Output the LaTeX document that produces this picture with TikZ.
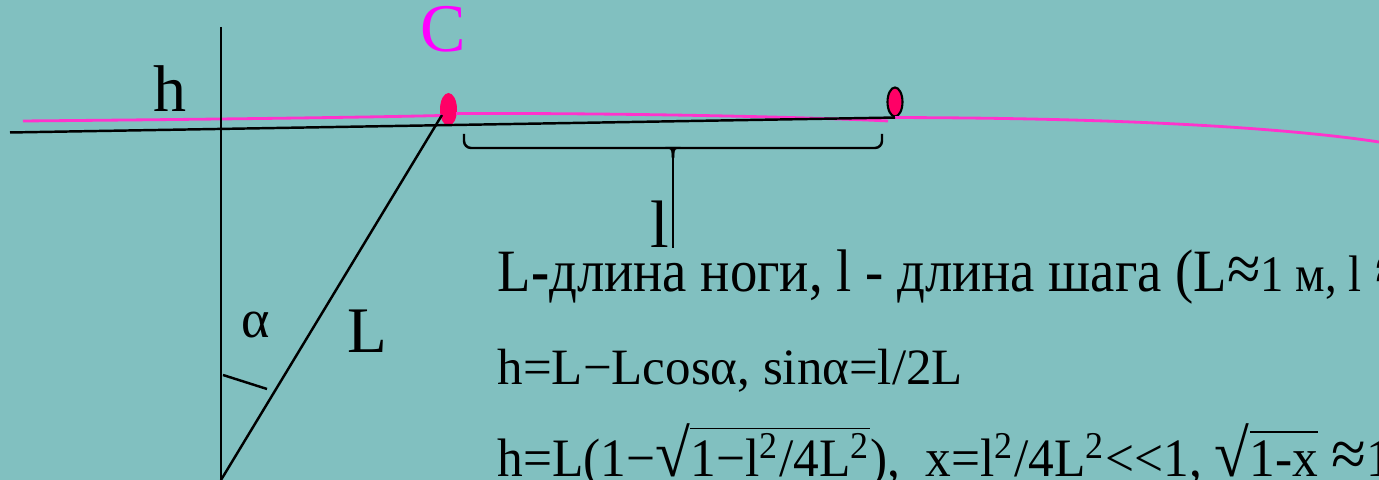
\documentclass[tikz,border=0pt]{standalone}
\usepackage{fontspec}
\setmainfont{Liberation Serif}
\usepackage{tikz}
\usetikzlibrary{shapes.geometric}

\definecolor{bgteal}{RGB}{129,192,192}
\definecolor{dotred}{RGB}{255,0,102}
\definecolor{pathpink}{RGB}{255,51,204}
\definecolor{labmag}{RGB}{255,0,255}

\newcommand\ovl[1]{$\overline{\hbox{\rule{0pt}{0.74em}#1}}$}
\newcommand\rt{{\fontsize{19}{19}\selectfont √}}
\newcommand\apx{{\fontsize{19}{19}\selectfont ≈}}
\newcommand\sm[1]{{\fontsize{14.6}{16}\selectfont #1}}

\begin{document}
\begin{tikzpicture}[
    ln/.style={line width=0.7pt,black},
    trace/.style={line width=0.8pt,pathpink},
    dot/.style={ellipse,inner sep=0pt,fill=dotred},
    lbl/.style={inner sep=0pt,font=\fontsize{18.8}{20}\selectfont},
    txt/.style={inner sep=0pt,anchor=base west},
  ]
  \useasboundingbox[fill=bgteal] (0,0) rectangle (13.79,4.80);

  % -- the two feet marks --
  \node[dot,minimum width=0.17cm,minimum height=0.33cm] (Cdot) at (4.485,3.705) {};
  \node[dot,draw=black,line width=0.6pt,minimum width=0.15cm,minimum height=0.29cm] (Edot) at (8.95,3.78) {};

  % -- path of the centre of mass --
  \coordinate (cl) at (4.42,3.645);
  \coordinate (cr) at (4.56,3.665);
  \draw[trace] (0.23,3.59) .. controls (2.5,3.61) and (3.8,3.63) .. (cl);
  \draw[trace] (cr) .. controls (6.5,3.67) and (8.3,3.62) .. (8.88,3.59);
  \draw[trace] (Edot.south) .. controls (11.5,3.62) and (13.0,3.50) .. (13.79,3.38);

  % -- ground, vertical and leg --
  \coordinate (gl) at (0.10,3.475);
  \coordinate (top) at (2.21,4.53);
  \coordinate (foot) at (2.21,0);
  \coordinate (hip) at (4.42,3.65);
  \draw[ln] (gl) -- (Edot.south);
  \draw[ln] (top) -- (foot);
  \draw[ln] (foot) -- (hip);
  \coordinate (t1) at (2.23,1.05);
  \coordinate (t2) at (2.67,0.91);
  \draw[ln] (t1) -- (t2);

  % -- the step brace --
  \coordinate (bl) at (4.64,3.46);
  \coordinate (br) at (8.82,3.46);
  \coordinate (bm) at (6.73,3.22);
  \coordinate (btail) at (6.73,2.32);
  \draw[ln,rounded corners=2pt] (bl) |- (6.69,3.32) to[out=0,in=90] (bm);
  \draw[ln,rounded corners=2pt] (br) |- (6.77,3.32) to[out=180,in=90] (bm);
  \draw[line width=0.5pt] (bm) -- (btail);

  % -- labels --
  \node[lbl,anchor=base west] (hlab) at (1.53,3.68) {h};
  \node[lbl,anchor=base,labmag,font=\fontsize{19.4}{21}\selectfont] (Clab) at (4.43,4.28) {C};
  \node[lbl,anchor=base west,font=\fontsize{19.1}{21}\selectfont] (llab) at (6.50,2.32) {l};
  \node[lbl,anchor=base west,font=\fontsize{15.4}{17}\selectfont] (alab) at (2.41,1.42) {α};
  \node[lbl,anchor=base west,font=\fontsize{18.5}{20}\selectfont] (Llab) at (3.47,1.27) {L};

  % -- the text --
  \node[txt,xscale=0.91,font=\fontsize{17.1}{19}\selectfont] (line1) at (4.97,1.88)
       {L\textbf{-}длина ноги, l - длина шага (L\apx\sm{1 м, l} \apx};
  \node[txt,font=\fontsize{14.5}{16}\selectfont] (line2) at (4.97,0.95)
       {h=L−Lcosα, sinα=l/2L};
  \node[txt,xscale=0.95,font=\fontsize{15.4}{17}\selectfont] (line3) at (4.97,0.03)
       {h=L(1−\rt\ovl{1−l\textsuperscript{2}/4L\textsuperscript{2}}),\ \ x=l\textsuperscript{2}/4L\textsuperscript{2}<{}<1, \rt\ovl{1-x} \apx1-};
\end{tikzpicture}
\end{document}
